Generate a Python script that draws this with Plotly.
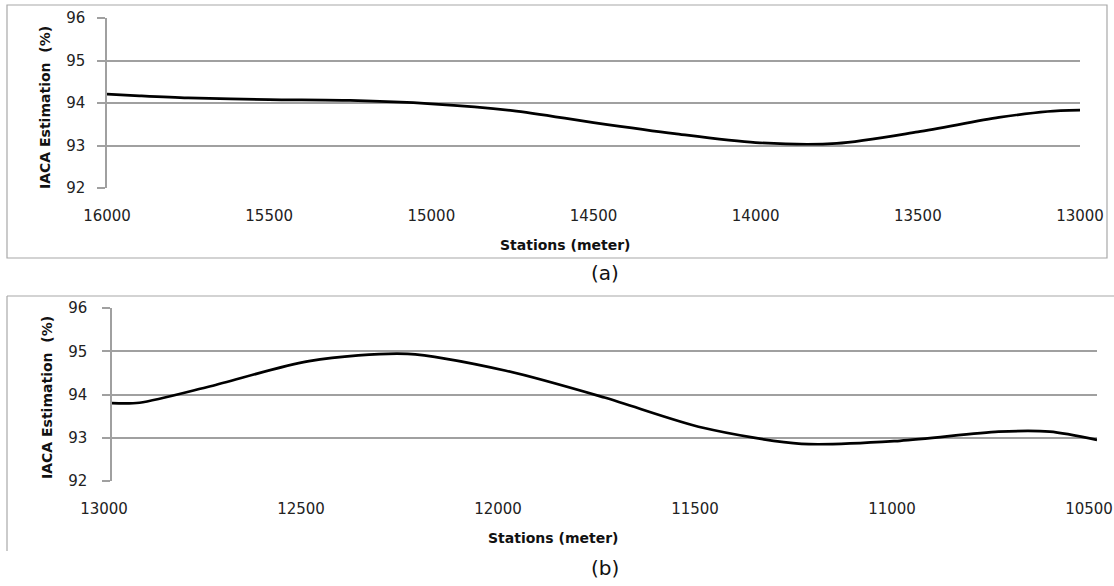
import plotly.graph_objects as go

W, H = 1114, 586

# Chart (a)
stations_a = [16000, 15900, 15750, 15500, 15250, 15000, 14750, 14500, 14250, 14000, 13750, 13500, 13250, 13100, 13000]
iaca_a = [94.21, 94.17, 94.12, 94.08, 94.06, 93.98, 93.82, 93.54, 93.28, 93.07, 93.05, 93.32, 93.66, 93.80, 93.83]

# Chart (b)
stations_b = [13000, 12930, 12750, 12500, 12250, 12000, 11750, 11500, 11250, 11000, 10750, 10620, 10500]
iaca_b = [93.80, 93.81, 94.19, 94.77, 94.94, 94.55, 93.93, 93.23, 92.86, 92.93, 93.14, 93.14, 92.95]

x_ticks_a = [16000, 15500, 15000, 14500, 14000, 13500, 13000]
x_ticks_b = [13000, 12500, 12000, 11500, 11000, 10500]
y_ticks = [92, 93, 94, 95, 96]

def px(x):
    return x / W

def py(y):
    return 1 - y / H

grid = "#a0a0a0"
font_tick = dict(family="DejaVu Sans", size=15, color="#222222")
font_title = dict(family="DejaVu Sans", size=14, color="#111111")

fig = go.Figure()
fig.add_trace(go.Scatter(x=stations_a, y=iaca_a, mode="lines", line=dict(color="black", width=2.7, shape="spline", smoothing=0.8),
                         xaxis="x", yaxis="y", showlegend=False, hoverinfo="skip"))
fig.add_trace(go.Scatter(x=stations_b, y=iaca_b, mode="lines", line=dict(color="black", width=2.7, shape="spline", smoothing=0.8),
                         xaxis="x2", yaxis="y2", showlegend=False, hoverinfo="skip"))

common_x = dict(showgrid=False, zeroline=False, showline=False, ticks="", tickfont=font_tick, ticklabelstandoff=17,
                tickformat="d", automargin=False, ticklabeloverflow="allow")
common_y = dict(range=[92, 96], tickvals=y_ticks, showgrid=True, gridcolor=grid, gridwidth=1.5, zeroline=False,
                showline=True, linecolor=grid, linewidth=1.5, ticks="outside", ticklen=8, tickcolor=grid, tickwidth=1.5,
                tickfont=font_tick, automargin=False)

fig.update_layout(
    width=W, height=H, margin=dict(l=0, r=0, t=0, b=0), autosize=False,
    paper_bgcolor="white", plot_bgcolor="white",
    xaxis=dict(domain=[px(107), px(1080)], range=[16000, 13000], tickvals=x_ticks_a, anchor="y", **common_x),
    yaxis=dict(domain=[py(188), py(18)], anchor="x", ticklabelstandoff=9, **common_y),
    xaxis2=dict(domain=[px(112), px(1097)], range=[13000, 10500], tickvals=x_ticks_b, anchor="y2", ticklabelshift=8, **common_x),
    yaxis2=dict(domain=[py(481), py(308)], anchor="x2", ticklabelstandoff=12, **common_y),
)

# Chart borders
fig.add_shape(type="rect", xref="paper", yref="paper", x0=px(7), x1=px(1107), y0=py(258), y1=py(5),
              line=dict(color="#a8a8a8", width=1.2))
fig.add_shape(type="line", xref="paper", yref="paper", x0=px(7), x1=px(1114), y0=py(296), y1=py(296),
              line=dict(color="#a8a8a8", width=1.2))
fig.add_shape(type="line", xref="paper", yref="paper", x0=px(7), x1=px(7), y0=py(296), y1=py(551),
              line=dict(color="#a8a8a8", width=1.2))

ann = []
ann.append(dict(text="<b>IACA Estimation  (%)</b>", x=px(45), y=py(108), textangle=-90, font=font_title))
ann.append(dict(text="<b>IACA Estimation  (%)</b>", x=px(47), y=py(398), textangle=-90, font=font_title))
ann.append(dict(text="<b>Stations (meter)</b>", x=px(565), y=py(245), font=font_title))
ann.append(dict(text="<b>Stations (meter)</b>", x=px(553), y=py(538), font=font_title))
ann.append(dict(text="(a)", x=px(605), y=py(273), font=dict(family="DejaVu Sans", size=20, color="#111111")))
ann.append(dict(text="(b)", x=px(605), y=py(568), font=dict(family="DejaVu Sans", size=20, color="#111111")))
for a in ann:
    a.update(xref="paper", yref="paper", xanchor="center", yanchor="middle", showarrow=False)
fig.update_layout(annotations=ann)

fig.write_html("out.html", config={"displayModeBar": False},
               post_script="document.body.style.margin='0';document.body.style.overflow='hidden';")
